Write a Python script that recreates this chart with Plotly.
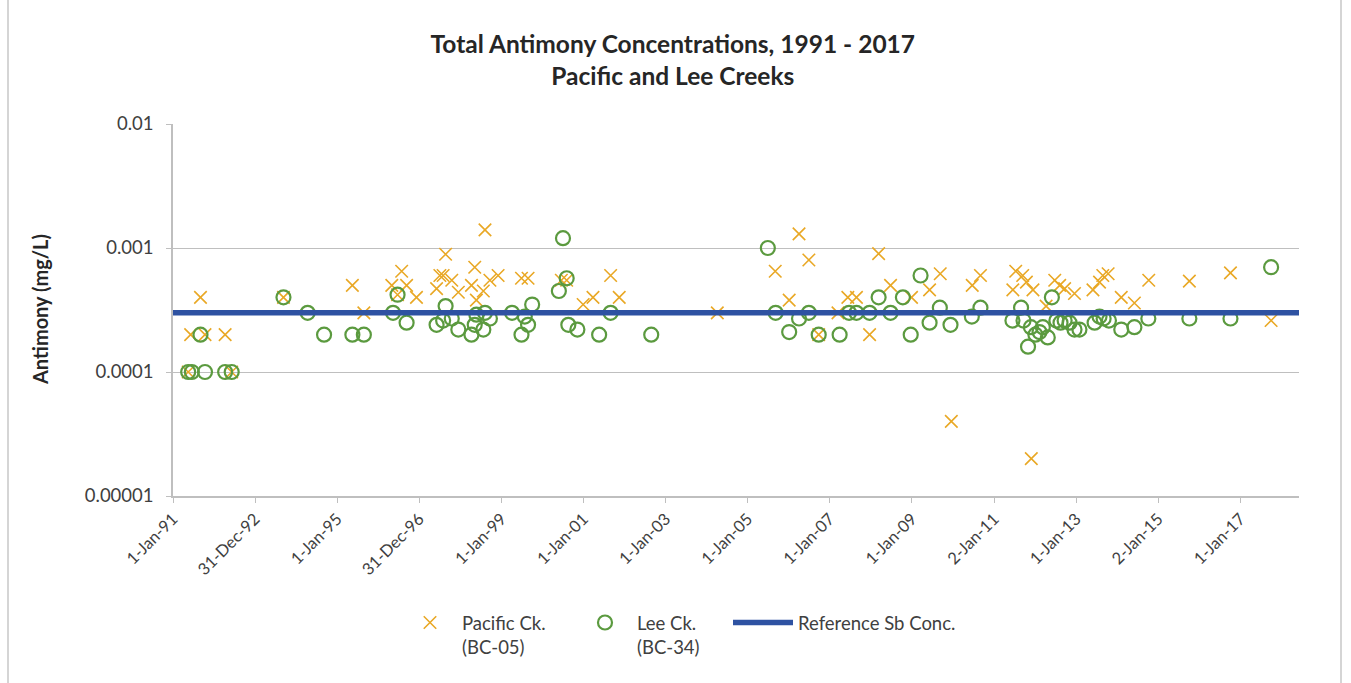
import pandas as pd
import plotly.graph_objects as go

# ---------------- data ----------------
pacific_years = [1991.37, 1991.43, 1991.67, 1991.78, 1992.27, 1992.43, 1993.69, 1995.37, 1995.65,
                 1996.33, 1996.47, 1996.57, 1996.69, 1996.93, 1997.42, 1997.50, 1997.58, 1997.64,
                 1997.79, 1997.95, 1998.27, 1998.35, 1998.39, 1998.56, 1998.60, 1998.72, 1998.92,
                 1999.49, 1999.65, 2000.46, 2000.59, 2000.99, 2001.23, 2001.66, 2001.87, 2004.26,
                 2005.67, 2006.01, 2006.25, 2006.49, 2006.73, 2007.20, 2007.44, 2007.65, 2007.97,
                 2008.19, 2008.48, 2008.99, 2009.43, 2009.69, 2009.96, 2010.47, 2010.67, 2011.46,
                 2011.53, 2011.70, 2011.79, 2011.91, 2011.95, 2012.27, 2012.48, 2012.60, 2012.72,
                 2012.96, 2013.41, 2013.57, 2013.65, 2013.78, 2014.10, 2014.42, 2014.77, 2015.76,
                 2016.76, 2017.75]
pacific_sb = [0.0001, 0.0002, 0.0004, 0.0002, 0.0002, 0.0001, 0.0004, 0.0005, 0.0003,
              0.0005, 0.00042, 0.00065, 0.0005, 0.0004, 0.00047, 0.0006, 0.0006, 0.00089,
              0.00055, 0.00044, 0.0005, 0.0007, 0.00038, 0.00045, 0.0014, 0.00055, 0.0006,
              0.00057, 0.00057, 0.00055, 0.00055, 0.00035, 0.0004, 0.0006, 0.0004, 0.0003,
              0.00065, 0.00038, 0.0013, 0.0008, 0.0002, 0.0003, 0.0004, 0.0004, 0.0002,
              0.0009, 0.0005, 0.0004, 0.00046, 0.00062, 0.00004, 0.0005, 0.0006, 0.00046,
              0.00065, 0.0006, 0.00053, 0.00002, 0.00046, 0.00034, 0.00055, 0.0005, 0.00047,
              0.00043, 0.00046, 0.00053, 0.0006, 0.00062, 0.0004, 0.00036, 0.00055, 0.00054,
              0.00063, 0.00026]

lee_years = [1991.37, 1991.46, 1991.67, 1991.78, 1992.27, 1992.43, 1993.69, 1994.28, 1994.68,
             1995.37, 1995.65, 1996.36, 1996.47, 1996.69, 1997.42, 1997.58, 1997.64, 1997.79,
             1997.95, 1998.27, 1998.35, 1998.39, 1998.56, 1998.60, 1998.72, 1999.26, 1999.49,
             1999.57, 1999.65, 1999.75, 2000.40, 2000.50, 2000.59, 2000.63, 2000.85, 2001.38,
             2001.66, 2002.65, 2005.49, 2005.68, 2006.01, 2006.25, 2006.49, 2006.73, 2007.24,
             2007.47, 2007.65, 2007.97, 2008.19, 2008.48, 2008.78, 2008.97, 2009.21, 2009.43,
             2009.68, 2009.94, 2010.46, 2010.67, 2011.45, 2011.66, 2011.72, 2011.83, 2011.90,
             2012.01, 2012.11, 2012.19, 2012.31, 2012.41, 2012.52, 2012.62, 2012.72, 2012.84,
             2012.96, 2013.08, 2013.45, 2013.57, 2013.67, 2013.80, 2014.10, 2014.42, 2014.76,
             2015.76, 2016.76, 2017.75]
lee_sb = [0.0001, 0.0001, 0.0002, 0.0001, 0.0001, 0.0001, 0.0004, 0.0003, 0.0002,
          0.0002, 0.0002, 0.0003, 0.00042, 0.00025, 0.00024, 0.00026, 0.00034, 0.00027,
          0.00022, 0.0002, 0.00024, 0.00029, 0.00022, 0.0003, 0.00027, 0.0003, 0.0002,
          0.00028, 0.00024, 0.00035, 0.00045, 0.0012, 0.00057, 0.00024, 0.00022, 0.0002,
          0.0003, 0.0002, 0.001, 0.0003, 0.00021, 0.00027, 0.0003, 0.0002, 0.0002,
          0.0003, 0.0003, 0.0003, 0.0004, 0.0003, 0.0004, 0.0002, 0.0006, 0.00025,
          0.00033, 0.00024, 0.00028, 0.00033, 0.00026, 0.00033, 0.00026, 0.00016, 0.00023,
          0.0002, 0.00021, 0.00023, 0.00019, 0.0004, 0.00026, 0.00025, 0.00026, 0.00025,
          0.00022, 0.00022, 0.00025, 0.00028, 0.00027, 0.00026, 0.00022, 0.00023, 0.00027,
          0.00027, 0.00027, 0.0007]

ref_dates = ["1991-01-01", "2018-06-07"]
ref_sb = [0.0003, 0.0003]

x_tick_labels = ["1-Jan-91", "31-Dec-92", "1-Jan-95", "31-Dec-96", "1-Jan-99", "1-Jan-01",
                 "1-Jan-03", "1-Jan-05", "1-Jan-07", "1-Jan-09", "2-Jan-11", "1-Jan-13",
                 "2-Jan-15", "1-Jan-17"]
y_tick_vals = [0.00001, 0.0001, 0.001, 0.01]
y_tick_labels = ["0.00001", "0.0001", "0.001", "0.01"]


def to_dates(years):
    out = []
    for y in years:
        yr = int(y)
        start = pd.Timestamp(year=yr, month=1, day=1)
        ndays = (pd.Timestamp(year=yr + 1, month=1, day=1) - start).days
        out.append(start + pd.Timedelta(days=(y - yr) * ndays))
    return out


x_tick_vals = list(pd.to_datetime(x_tick_labels, format="%d-%b-%y"))

FONT = "Lato"
TXT = "#404040"
L, R, T, B = 173, 52, 124, 187
PW = 1351 - L - R
PH = 683 - T - B


def px_x(px):
    return (px - L) / PW


def px_y(py):
    return (683 - B - py) / PH


leg_font = dict(family=FONT, size=18.5, color=TXT)

fig = go.Figure()
fig.add_trace(go.Scatter(
    x=to_dates(pacific_years), y=pacific_sb, mode="markers",
    name="Pacific Ck.<br>(BC-05)", legend="legend",
    marker=dict(symbol="x-thin-open", size=12.5, color="#E9A825",
                line=dict(color="#E9A825", width=1.6)),
))
fig.add_trace(go.Scatter(
    x=to_dates(lee_years), y=lee_sb, mode="markers",
    name="Lee Ck.<br>(BC-34)", legend="legend2",
    marker=dict(symbol="circle-open", size=14, color="#5B9A3F",
                line=dict(color="#5B9A3F", width=2.2)),
))
fig.add_trace(go.Scatter(
    x=pd.to_datetime(ref_dates), y=ref_sb, mode="lines",
    name="Reference Sb Conc.", legend="legend3",
    line=dict(color="#2E52A2", width=5.5),
))

common_leg = dict(orientation="h", xanchor="left", yanchor="top", font=leg_font,
                  valign="top", bgcolor="rgba(0,0,0,0)", borderwidth=0)

fig.update_layout(
    width=1351, height=683,
    paper_bgcolor="white", plot_bgcolor="white",
    margin=dict(l=L, r=R, t=T, b=B, autoexpand=False),
    title=dict(text="<b>Total Antimony Concentrations, 1991 - 2017<br>Pacific and Lee Creeks</b>",
               x=0.498, xanchor="center", y=1 - 53 / 683, yanchor="top",
               font=dict(family=FONT, size=24.5, color="#262626")),
    font=dict(family=FONT, color=TXT),
    showlegend=True,
    legend=dict(common_leg, x=px_x(398), y=px_y(604), itemwidth=54),
    legend2=dict(common_leg, x=px_x(573), y=px_y(604), itemwidth=54),
    legend3=dict(common_leg, x=px_x(728), y=px_y(604), itemwidth=60),
    shapes=[dict(type="rect", xref="paper", yref="paper",
                 x0=px_x(8), x1=px_x(1341), y0=px_y(720), y1=px_y(-40),
                 line=dict(color="#C8C8C8", width=1.5), layer="below")],
    annotations=[dict(text="<b>Antimony (mg/L)</b>", textangle=-90,
                      xref="paper", yref="paper", x=px_x(40), y=0.5,
                      xanchor="center", yanchor="middle", showarrow=False,
                      font=dict(family=FONT, size=20, color="#262626"))],
)

fig.update_xaxes(
    type="date", automargin=False,
    range=[pd.Timestamp("1991-01-01"), pd.Timestamp("2018-06-07")],
    tickvals=x_tick_vals, ticktext=x_tick_labels, tickangle=-45,
    tickfont=dict(family=FONT, size=16.5, color=TXT),
    showgrid=False, showline=True, linecolor="#BFBFBF", linewidth=1.5,
    ticks="outside", ticklen=5, tickcolor="#BFBFBF",
    zeroline=False,
)
fig.update_yaxes(
    type="log", range=[-5, -2], automargin=False,
    tickvals=y_tick_vals, ticktext=y_tick_labels,
    tickfont=dict(family=FONT, size=18.5, color=TXT),
    ticklabelstandoff=9,
    showgrid=True, gridcolor="#BFBFBF", gridwidth=1.2,
    showline=True, linecolor="#BFBFBF", linewidth=1.5,
    ticks="outside", ticklen=5, tickcolor="#BFBFBF",
    zeroline=False,
)

fig.write_html("out.html", config={"displayModeBar": False},
               post_script="document.body.style.margin='0px';")
